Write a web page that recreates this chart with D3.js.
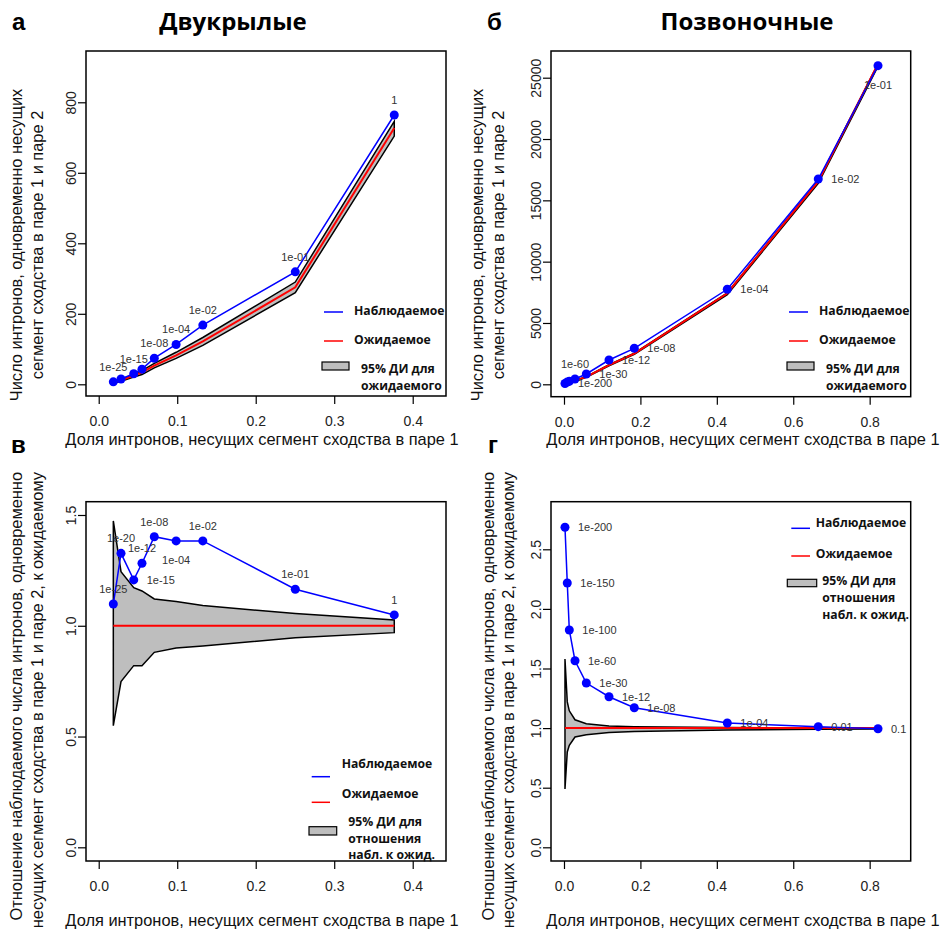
<!DOCTYPE html>
<html>
<head>
<meta charset="utf-8">
<script src="https://cdn.jsdelivr.net/npm/d3@7"></script>
<style>
body { margin: 0; background: #fff; }
svg text { font-family: "Liberation Sans", Arial, sans-serif; }
svg text.lg { font-family: "Open Sans", sans-serif; font-weight: 700; font-size: 12.2px; fill: #111; }
</style>
</head>
<body>
<div id="chart"></div>
<script>
// Двукрылые: доля интронов (x), наблюдаемое / ожидаемое число, 95% ДИ
const dipX = [0.0186, 0.0284, 0.0446, 0.0551, 0.0708, 0.0986, 0.1326, 0.2504, 0.3765];
const dipObs = [7, 15, 30, 43, 74, 113, 168, 319, 764];
const dipExp = [6.4, 11.3, 24.8, 33.6, 52.9, 81.9, 121.7, 275, 727];
const dipExpLo = [3.5, 8.5, 20.3, 27.6, 46.6, 73.7, 110.6, 260, 704];
const dipExpHi = [9.4, 14, 29, 38.9, 59.3, 90.8, 132.8, 290, 746];
const dipRatio = [1.098, 1.327, 1.207, 1.282, 1.402, 1.383, 1.383, 1.165, 1.049];
const dipRatioLo = [0.549, 0.748, 0.82, 0.82, 0.88, 0.90, 0.909, 0.946, 0.969];
const dipRatioHi = [1.473, 1.244, 1.172, 1.157, 1.121, 1.109, 1.091, 1.055, 1.026];
const dipPval = ['1e-25', '1e-20', '1e-15', '1e-12', '1e-08', '1e-04', '1e-02', '1e-01', '1'];

// Позвоночные
const vertX = [0.0026, 0.0086, 0.0139, 0.0288, 0.0584, 0.1178, 0.184, 0.4274, 0.6655, 0.8218];
const vertObs = [67, 184, 244, 432, 840, 1981, 2935, 7746, 16740, 25980];
const vertExp = [25, 83, 134, 276, 610, 1568, 2506, 7427, 16542, 26111];
const vertExpLo = [12, 66, 115, 255, 576, 1510, 2433, 7316, 16377, 25928];
const vertExpHi = [40, 100, 153, 295, 632, 1595, 2534, 7457, 16575, 26137];
const vertRatio = [2.685, 2.217, 1.823, 1.565, 1.378, 1.263, 1.171, 1.043, 1.012, 0.995];
const vertRatioLo = [0.49, 0.80, 0.855, 0.925, 0.945, 0.963, 0.971, 0.985, 0.99, 0.993];
const vertRatioHi = [1.58, 1.22, 1.145, 1.07, 1.036, 1.017, 1.011, 1.004, 1.002, 1.001];
const vertPvalB = ['1e-200', '1e-150', '1e-100', '1e-60', '1e-30', '1e-12', '1e-08', '1e-04', '1e-02', '1e-01'];
const vertPvalG = ['1e-200', '1e-150', '1e-100', '1e-60', '1e-30', '1e-12', '1e-08', '1e-04', '0.01', '0.1'];

// where each p-value label sits (t = above, r = right, b = below, null = hidden)
const posA = ['t', null, 't', null, 't', 't', 't', 't', 't'];
const posV = ['t', 't', 'r', 't', 't', 'b', 't', 't', 't'];
const posB = ['r', null, null, 't', 'r', 'r', 'r', 'r', 'r', 'b'];
const posG = ['r', 'r', 'r', 'r', 'r', 'r', 'r', 'r', 'r', 'r'];

const ticksX1 = [0, 0.1, 0.2, 0.3, 0.4];
const ticksX2 = [0, 0.2, 0.4, 0.6, 0.8];
const ticksYA = [0, 200, 400, 600, 800];
const ticksYB = [0, 5000, 10000, 15000, 20000, 25000];
const ticksYV = [0, 0.5, 1, 1.5];
const ticksYG = [0, 0.5, 1, 1.5, 2, 2.5];

const xTitle = 'Доля интронов, несущих сегмент сходства в паре 1';
const yTitleCount = ['Число интронов, одновременно несущих', 'сегмент сходства в паре 1 и паре 2'];
const yTitleRatio = ['Отношение наблюдаемого числа интронов, одновременно', 'несущих сегмент сходства в паре 1 и паре 2, к ожидаемому'];

const svg = d3.select('#chart')
    .append('svg')
    .attr('width', 948)
    .attr('height', 947)
    .style('background', '#fff');

function drawPanel(p) {
    const x = d3.scaleLinear().domain(p.xDomain).range([p.left, p.right]);
    const y = d3.scaleLinear().domain(p.yDomain).range([p.bottom, p.top]);
    const g = svg.append('g');
    const rows = p.x.map((v, i) => ({ x: v, v: p.obs[i], lo: p.lo[i], hi: p.hi[i], e: p.exp ? p.exp[i] : 1, lab: p.pval[i], pos: p.pos[i] }));

    // confidence band
    g.append('path')
        .datum(rows)
        .attr('d', d3.area().x(d => x(d.x)).y0(d => y(d.lo)).y1(d => y(d.hi)))
        .attr('fill', '#bebebe')
        .attr('stroke', '#000')
        .attr('stroke-width', 1.5);

    // expected
    g.append('path')
        .datum(rows)
        .attr('d', d3.line().x(d => x(d.x)).y(d => y(d.e)))
        .attr('fill', 'none')
        .attr('stroke', '#ff0000')
        .attr('stroke-width', 2);

    // observed
    g.append('path')
        .datum(rows)
        .attr('d', d3.line().x(d => x(d.x)).y(d => y(d.v)))
        .attr('fill', 'none')
        .attr('stroke', '#0000ff')
        .attr('stroke-width', 1.5);

    g.selectAll('.pt')
        .data(rows)
        .enter()
        .append('circle')
        .attr('cx', d => x(d.x))
        .attr('cy', d => y(d.v))
        .attr('r', 4.5)
        .attr('fill', '#0000ff');

    g.selectAll('.lab')
        .data(rows.filter(d => d.pos))
        .enter()
        .append('text')
        .attr('x', d => d.pos === 'r' ? x(d.x) + 13 : x(d.x))
        .attr('y', d => d.pos === 't' ? y(d.v) - 11 : d.pos === 'b' ? y(d.v) + 23 : y(d.v) + 4)
        .attr('text-anchor', d => d.pos === 'r' ? 'start' : 'middle')
        .style('font-size', '11px')
        .style('fill', '#333')
        .text(d => d.lab);

    // axes
    const xa = g.append('g')
        .attr('transform', `translate(0,${p.bottom})`)
        .call(d3.axisBottom(x).tickValues(p.xTicks).tickFormat(d3.format('.1f')).tickSize(8).tickPadding(12));
    const ya = g.append('g')
        .attr('transform', `translate(${p.left},0)`)
        .call(d3.axisLeft(y).tickValues(p.yTicks).tickFormat(p.yFormat).tickSize(8));
    [xa, ya].forEach(a => {
        a.select('.domain').remove();
        a.attr('font-size', 14).attr('font-family', null);
        a.selectAll('line').attr('stroke', '#000').attr('stroke-width', 1.2);
        a.selectAll('text').attr('fill', '#222');
    });
    ya.selectAll('.tick text')
        .attr('x', 0)
        .attr('dy', 0)
        .attr('transform', 'translate(-10,0) rotate(-90)')
        .attr('text-anchor', 'middle');

    g.append('rect')
        .attr('x', p.left).attr('y', p.top)
        .attr('width', p.right - p.left).attr('height', p.bottom - p.top)
        .attr('fill', 'none')
        .attr('stroke', '#000')
        .attr('stroke-width', 1.5);

    // axis titles
    g.append('text')
        .attr('x', p.xTitleX).attr('y', p.xTitleY)
        .attr('text-anchor', 'middle')
        .style('font-size', '16.4px')
        .style('fill', '#111')
        .text(xTitle);
    p.yTitle.forEach((t, i) => {
        g.append('text')
            .attr('transform', `translate(${p.yTitleX[i]},${p.yTitleY}) rotate(-90)`)
            .attr('text-anchor', p.yTitleAnchor)
            .style('font-size', '16.4px')
            .style('fill', '#111')
            .text(t);
    });

    // legend
    const L = p.legend;
    const lg = g.append('g')
        .attr('transform', `translate(${p.left},${p.top})`);
    [['#0000ff', 'Наблюдаемое'], ['#ff0000', 'Ожидаемое']].forEach((e, i) => {
        lg.append('line')
            .attr('x1', L.lineX[0]).attr('x2', L.lineX[1])
            .attr('y1', L.lineY[i]).attr('y2', L.lineY[i])
            .attr('stroke', e[0]).attr('stroke-width', 1.5);
        lg.append('text')
            .attr('class', 'lg')
            .attr('x', L.textX).attr('y', L.textY[i]).attr('dy', '0.35em')
            .text(e[1]);
    });
    lg.append('rect')
        .attr('x', L.box[0]).attr('y', L.box[1])
        .attr('width', L.box[2]).attr('height', L.box[3])
        .attr('fill', '#bebebe').attr('stroke', '#000').attr('stroke-width', 1.2);
    L.boxText.forEach((t, i) => {
        lg.append('text')
            .attr('class', 'lg')
            .attr('x', L.boxTextX).attr('y', L.boxTextY[i]).attr('dy', '0.35em')
            .text(t);
    });
}

const legendTop = {
    lineX: [238, 257], lineY: [261, 290], textX: 268, textY: [260, 289],
    box: [236, 311, 27, 8], boxTextX: 275, boxTextY: [318, 335],
    boxText: ['95% ДИ для', 'ожидаемого']
};

drawPanel({
    left: 86, right: 446, top: 51, bottom: 396,
    xDomain: [-0.0162, 0.4424], yDomain: [-33.2, 945.5],
    x: dipX, obs: dipObs, exp: dipExp, lo: dipExpLo, hi: dipExpHi, pval: dipPval, pos: posA,
    xTicks: ticksX1, yTicks: ticksYA, yFormat: d3.format('d'),
    xTitleX: 262, xTitleY: 445,
    yTitle: yTitleCount, yTitleX: [22, 43], yTitleY: 245, yTitleAnchor: 'middle',
    legend: legendTop
});

drawPanel({
    left: 551, right: 910.7, top: 51, bottom: 396.7,
    xDomain: [-0.034, 0.9074], yDomain: [-1011, 27177],
    x: vertX, obs: vertObs, exp: vertExp, lo: vertExpLo, hi: vertExpHi, pval: vertPvalB, pos: posB,
    xTicks: ticksX2, yTicks: ticksYB, yFormat: d3.format('d'),
    xTitleX: 743, xTitleY: 445,
    yTitle: yTitleCount, yTitleX: [483, 504], yTitleY: 245, yTitleAnchor: 'middle',
    legend: legendTop
});

drawPanel({
    left: 86, right: 446, top: 501.7, bottom: 861,
    xDomain: [-0.0162, 0.4424], yDomain: [-0.0618, 1.560],
    x: dipX, obs: dipRatio, exp: null, lo: dipRatioLo, hi: dipRatioHi, pval: dipPval, pos: posV,
    xTicks: ticksX1, yTicks: ticksYV, yFormat: d3.format('.1f'),
    xTitleX: 262, xTitleY: 926,
    yTitle: yTitleRatio, yTitleX: [22, 43], yTitleY: 472, yTitleAnchor: 'end',
    legend: {
        lineX: [225.7, 244], lineY: [275, 300.6], textX: 255.7, textY: [261.6, 292.3],
        box: [223, 325, 27.7, 8.3], boxTextX: 262.3, boxTextY: [320, 337.3, 353.3],
        boxText: ['95% ДИ для', 'отношения', 'набл. к ожид.']
    }
});

drawPanel({
    left: 551, right: 910.7, top: 501.7, bottom: 861,
    xDomain: [-0.034, 0.9074], yDomain: [-0.1149, 2.8993],
    x: vertX, obs: vertRatio, exp: null, lo: vertRatioLo, hi: vertRatioHi, pval: vertPvalG, pos: posG,
    xTicks: ticksX2, yTicks: ticksYG, yFormat: d3.format('.1f'),
    xTitleX: 743, xTitleY: 926,
    yTitle: yTitleRatio, yTitleX: [494, 514], yTitleY: 472, yTitleAnchor: 'end',
    legend: {
        lineX: [240.3, 259], lineY: [26.6, 54.3], textX: 264.7, textY: [20.6, 51.6],
        box: [236.3, 77.6, 29.4, 7.4], boxTextX: 271.3, boxTextY: [79, 96, 112.6],
        boxText: ['95% ДИ для', 'отношения', 'набл. к ожид.']
    }
});

// panel letters and titles
const heads = [
    { t: 'а', x: 12, y: 30 },
    { t: 'б', x: 487, y: 30 },
    { t: 'в', x: 11, y: 453 },
    { t: 'г', x: 488, y: 453 }
];
svg.selectAll('.letter')
    .data(heads)
    .enter()
    .append('text')
    .attr('x', d => d.x).attr('y', d => d.y)
    .style('font-family', '"Liberation Sans", Arial, sans-serif')
    .style('font-weight', 700)
    .style('font-size', '24px')
    .text(d => d.t);

svg.selectAll('.title')
    .data([{ t: 'Двукрылые', x: 233 }, { t: 'Позвоночные', x: 747 }])
    .enter()
    .append('text')
    .attr('x', d => d.x).attr('y', 30)
    .attr('text-anchor', 'middle')
    .style('font-family', '"Open Sans", sans-serif')
    .style('font-weight', 700)
    .style('font-size', '24px')
    .text(d => d.t);
</script>
</body>
</html>
